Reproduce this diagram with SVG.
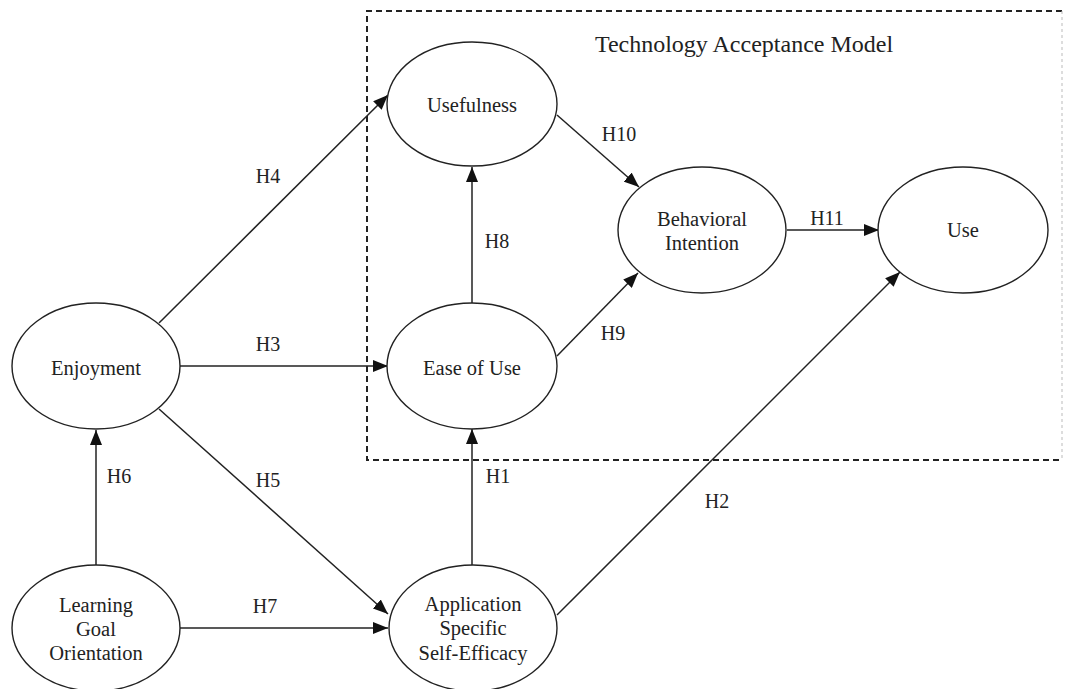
<svg xmlns="http://www.w3.org/2000/svg" width="1066" height="689" viewBox="0 0 1066 689" font-family="'Liberation Serif', 'Times New Roman', Tinos, 'DejaVu Serif', serif">
<style>
.node ellipse{fill:#fff;stroke:#222;stroke-width:1.4}
text{fill:#222;text-anchor:middle}
.nt{font-size:20.5px}
.lb{font-size:20px}
.title{font-size:24px}
.conn line{stroke:#222;stroke-width:1.5;marker-end:url(#arr)}
</style>
<defs>
<marker id="arr" markerUnits="userSpaceOnUse" markerWidth="16" markerHeight="12" refX="15" refY="6" orient="auto">
<path d="M0,0 L15,6 L0,12 Z" fill="#111"/>
</marker>
</defs>
<rect width="1066" height="689" fill="#fff"/>
<g id="tam-box">
<path d="M1062,11 H367 V460 H1062" fill="none" stroke="#222" stroke-width="2" stroke-dasharray="6,4"/>
<line x1="1062" y1="11" x2="1062" y2="460" stroke="#bbb" stroke-width="1" stroke-dasharray="3,3"/>
<text class="title" x="744" y="52">Technology Acceptance Model</text>
</g>
<g id="connectors" class="conn">
<line x1="159" y1="323" x2="388" y2="95"/>
<line x1="180" y1="366" x2="388" y2="366"/>
<line x1="159" y1="409" x2="388" y2="614"/>
<line x1="96" y1="565" x2="96" y2="430"/>
<line x1="180" y1="628" x2="388" y2="628"/>
<line x1="472" y1="565" x2="472" y2="429"/>
<line x1="557" y1="615" x2="900" y2="272"/>
<line x1="472" y1="303" x2="472" y2="167"/>
<line x1="557" y1="356" x2="638" y2="273"/>
<line x1="557" y1="115" x2="639" y2="187"/>
<line x1="787" y1="230" x2="879" y2="230"/>
</g>
<g id="labels">
<text class="lb" x="268" y="183">H4</text>
<text class="lb" x="268" y="351">H3</text>
<text class="lb" x="268" y="487">H5</text>
<text class="lb" x="119" y="483">H6</text>
<text class="lb" x="265" y="613">H7</text>
<text class="lb" x="498" y="483">H1</text>
<text class="lb" x="717" y="508">H2</text>
<text class="lb" x="497" y="248">H8</text>
<text class="lb" x="613" y="340">H9</text>
<text class="lb" x="619" y="141">H10</text>
<text class="lb" x="827" y="225">H11</text>
</g>
<g id="usefulness" class="node">
<ellipse cx="472" cy="104" rx="85" ry="62"/>
<text class="nt" x="472" y="112">Usefulness</text>
</g>
<g id="ease-of-use" class="node">
<ellipse cx="472" cy="366" rx="85" ry="63"/>
<text class="nt" x="472" y="375">Ease of Use</text>
</g>
<g id="behavioral-intention" class="node">
<ellipse cx="702" cy="230" rx="84" ry="63"/>
<text class="nt" x="702" y="226">Behavioral</text>
<text class="nt" x="702" y="250">Intention</text>
</g>
<g id="use" class="node">
<ellipse cx="963" cy="230" rx="85" ry="63"/>
<text class="nt" x="963" y="237">Use</text>
</g>
<g id="enjoyment" class="node">
<ellipse cx="96" cy="366" rx="84" ry="63"/>
<text class="nt" x="96" y="375">Enjoyment</text>
</g>
<g id="learning-goal-orientation" class="node">
<ellipse cx="96" cy="628" rx="84" ry="63"/>
<text class="nt" x="96" y="612">Learning</text>
<text class="nt" x="96" y="636">Goal</text>
<text class="nt" x="96" y="660">Orientation</text>
</g>
<g id="application-specific-self-efficacy" class="node">
<ellipse cx="473" cy="628" rx="84" ry="63"/>
<text class="nt" x="473" y="611">Application</text>
<text class="nt" x="473" y="635">Specific</text>
<text class="nt" x="473" y="660">Self-Efficacy</text>
</g>
</svg>
